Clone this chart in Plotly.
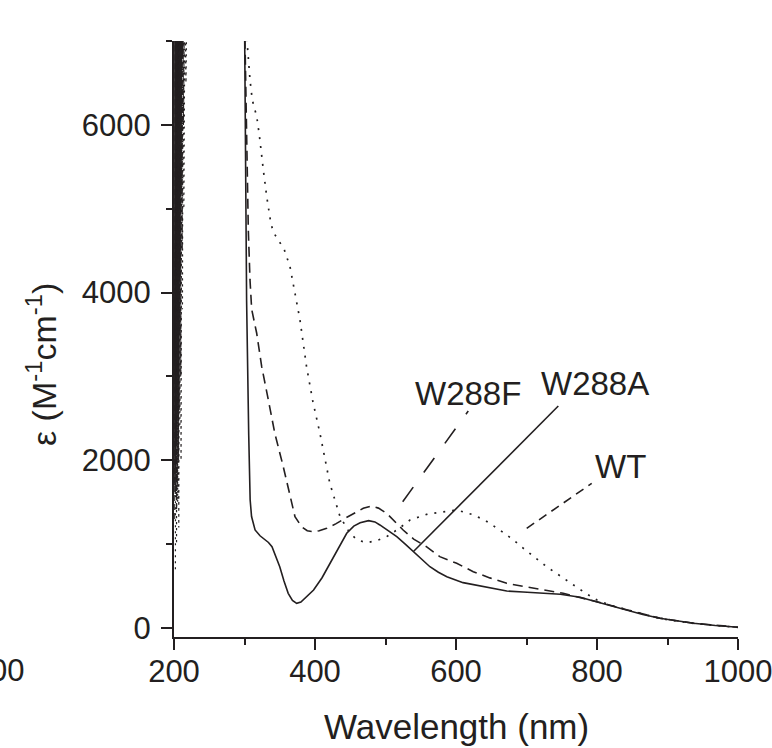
import plotly.graph_objects as go

# ---------------- data ----------------
# Noisy, saturated region below ~220 nm
wl_a_noise = [200.5, 201.2, 201.8, 202.5, 203.1, 203.8, 204.4, 205.1, 205.8, 206.4, 207.1,
              207.8, 208.5, 209.2, 210.0, 211.0, 212.0, 214.0, 230]
eps_a_noise = [1700, 7600, 1600, 7400, 2200, 7600, 1700, 7500, 3000, 7600, 2600,
               7500, 4200, 7600, 5200, 7600, 6800, 7600, 9000]
wl_f_noise = [201.0, 201.7, 202.4, 203.0, 203.7, 204.3, 205.0, 205.7, 206.5, 207.3, 208.0,
              208.8, 209.6, 210.5, 211.5, 212.5, 213.5, 215.0, 230]
eps_f_noise = [1300, 7500, 1900, 7600, 1400, 7400, 2500, 7600, 2000, 7500, 3500,
               7600, 3000, 7400, 4500, 7600, 6000, 7600, 9000]
wl_wt_noise = [202.0, 202.8, 203.6, 204.4, 205.2, 206.0, 206.8, 207.6, 208.4, 209.2, 210.0,
               211.0, 212.0, 213.0, 214.0, 215.5, 217.0, 218.5, 220.0, 232]
eps_wt_noise = [700, 7600, 1000, 7500, 1500, 7600, 1200, 7400, 2400, 7600, 2000,
                7500, 3800, 7600, 5000, 7500, 6500, 7600, 7000, 9000]

# W288A (solid)
wl_a = [230, 290, 300.3, 303, 306,
        308, 310, 315, 322, 327, 334, 339, 345, 350, 356, 362, 368, 374, 380, 388, 398,
        410, 421, 433, 445, 455, 464, 476, 485, 492, 504, 516, 528, 540, 552, 563, 575,
        587, 610, 634, 655, 672, 695, 719, 735, 748, 762, 776, 790, 804, 822, 842, 865,
        889, 912, 937, 968, 1000]
eps_a = [9000, 9000, 7000, 3900, 2300,
         1530, 1330, 1170, 1100, 1070, 1020, 970, 850, 730, 560, 414, 330, 294, 310, 370, 453,
         600, 772, 960, 1130, 1215, 1256, 1280, 1265, 1229, 1160, 1089, 1000, 910, 815, 731, 665,
         612, 541, 501, 465, 441, 430, 421, 413, 402, 385, 366, 335, 302, 258, 215, 162,
         116, 83, 56, 30, 10]

# W288F (dashed)
wl_f = [230, 290, 300.7, 303, 305.4,
        307.8, 310.2, 317.3, 324.4, 333.8, 343, 355, 363.5, 371.6, 381, 389, 397.6, 406,
        416.6, 430, 442.6, 456, 468.5, 480, 490, 501.7, 513, 525, 540, 558, 577, 601,
        624.5, 648, 672, 695, 719, 752, 780, 804, 842, 889, 937, 968, 1000]
eps_f = [9000, 9000, 7000, 5940, 4748,
         4151, 3800, 3515, 3117, 2720, 2322, 1924, 1607, 1328, 1208, 1160, 1149, 1160,
         1189, 1245, 1308, 1375, 1428, 1455, 1430, 1368, 1275, 1169, 1060, 970, 851, 772,
         672, 598, 533, 495, 462, 414, 360, 305, 218, 118, 57, 30, 10]

# WT (dotted)
wl_wt = [232, 290, 302, 304,
         307.8, 311, 317.3, 321, 326.7, 331.5, 337.6, 341.8, 349.4, 356.5, 364.5, 371.6,
         378.7, 388, 397, 407, 421, 435.5, 449.6, 460, 473, 487, 501.7, 518, 534.8, 560,
         582, 601, 624.5, 642, 662, 680, 695.5, 712, 728.6, 748, 766, 783, 800, 820, 842,
         865, 889, 912, 937, 968, 1000]
eps_wt = [9000, 9000, 7400, 6955,
          6537, 6298, 6100, 5881, 5463, 5145, 4816, 4708, 4608, 4509, 4310, 3993,
          3674, 3117, 2700, 2322, 1726, 1328, 1130, 1050, 1018, 1040, 1090, 1180, 1288, 1360,
          1388, 1408, 1350, 1280, 1169, 1060, 951, 840, 731, 620, 513, 420, 334, 270, 220,
          165, 115, 83, 55, 30, 8]

x_ticks = [200, 400, 600, 800, 1000]
y_ticks = [0, 2000, 4000, 6000]

# labels with leader lines: (text, label x, label y, line start, line end, dash)
labels = [
    ("W288F", 617, 2800, (524.4, 1506), (617.4, 2588), "18px,18px"),
    ("W288A", 797, 2911, (540.0, 915), (745.1, 2647), "solid"),
    ("WT", 834, 1932, (700.3, 1189), (792.5, 1725), "9px,6px"),
]

INK = "#231f20"
FONT = "Liberation Sans, Arial, Helvetica, sans-serif"
DASH = "10px,6px"
DOT = "2px,7px"

fig = go.Figure()
# noisy part (thin strokes)
fig.add_trace(go.Scatter(x=wl_a_noise, y=eps_a_noise, mode="lines", hoverinfo="skip",
                         line=dict(color=INK, width=1.0)))
fig.add_trace(go.Scatter(x=wl_f_noise, y=eps_f_noise, mode="lines", hoverinfo="skip",
                         line=dict(color=INK, width=1.0, dash="6px,3px")))
fig.add_trace(go.Scatter(x=wl_wt_noise, y=eps_wt_noise, mode="lines", hoverinfo="skip",
                         line=dict(color=INK, width=1.2, dash="2px,4px")))
# main spectra
fig.add_trace(go.Scatter(x=wl_a, y=eps_a, mode="lines", name="W288A",
                         line=dict(color=INK, width=1.6)))
fig.add_trace(go.Scatter(x=wl_f, y=eps_f, mode="lines", name="W288F",
                         line=dict(color=INK, width=1.6, dash=DASH)))
fig.add_trace(go.Scatter(x=wl_wt, y=eps_wt, mode="lines", name="WT",
                         line=dict(color=INK, width=1.7, dash=DOT)))

for text, tx, ty, p0, p1, dash in labels:
    fig.add_shape(type="line", xref="x", yref="y", x0=p0[0], y0=p0[1], x1=p1[0], y1=p1[1],
                  line=dict(color=INK, width=1.6, dash=dash))
    fig.add_annotation(x=tx, y=ty, xref="x", yref="y", text=text, showarrow=False,
                       font=dict(family=FONT, size=33, color=INK),
                       xanchor="center", yanchor="middle")

# axis titles and the cropped neighbouring tick label
fig.add_annotation(xref="paper", yref="paper", x=0.5, y=-0.151, text="Wavelength (nm)",
                   showarrow=False, font=dict(family=FONT, size=35, color=INK),
                   xanchor="center", yanchor="middle")
fig.add_annotation(xref="paper", yref="paper", x=-0.234, y=0.4564,
                   text="ε (M<sup>-1</sup>cm<sup>-1</sup>)", textangle=-90,
                   showarrow=False, font=dict(family=FONT, size=34, color=INK),
                   xanchor="center", yanchor="middle")
fig.add_annotation(xref="paper", yref="paper", x=-0.2624, y=-0.057, text="00",
                   showarrow=False, font=dict(family=FONT, size=31, color=INK),
                   xanchor="right", yanchor="middle")

fig.update_layout(
    width=772, height=748,
    margin=dict(l=174, r=34, t=41, b=111, autoexpand=False),
    paper_bgcolor="white", plot_bgcolor="white",
    showlegend=False,
    font=dict(family=FONT, color=INK),
)
fig.update_xaxes(range=[200, 1000], tickvals=x_ticks, ticks="outside", ticklen=11,
                 tickwidth=2, tickcolor=INK, showline=True, linecolor=INK, linewidth=2,
                 showgrid=False, zeroline=False, ticklabeloverflow="allow",
                 ticklabelstandoff=-5, automargin=False,
                 tickfont=dict(family=FONT, size=31, color=INK),
                 minor=dict(dtick=100, tick0=0, ticks="outside", ticklen=6, tickwidth=2,
                            tickcolor=INK, showgrid=False))
fig.update_yaxes(range=[-107, 7000], tickvals=y_ticks, ticks="outside", ticklen=11,
                 tickwidth=2, tickcolor=INK, showline=True, linecolor=INK, linewidth=2,
                 showgrid=False, zeroline=False, ticklabeloverflow="allow",
                 ticklabelstandoff=4, automargin=False,
                 tickfont=dict(family=FONT, size=31, color=INK),
                 minor=dict(dtick=1000, tick0=0, ticks="outside", ticklen=6, tickwidth=2,
                            tickcolor=INK, showgrid=False))

fig.write_html("out.html", config={"displayModeBar": False},
               post_script="document.body.style.margin='0px';")
